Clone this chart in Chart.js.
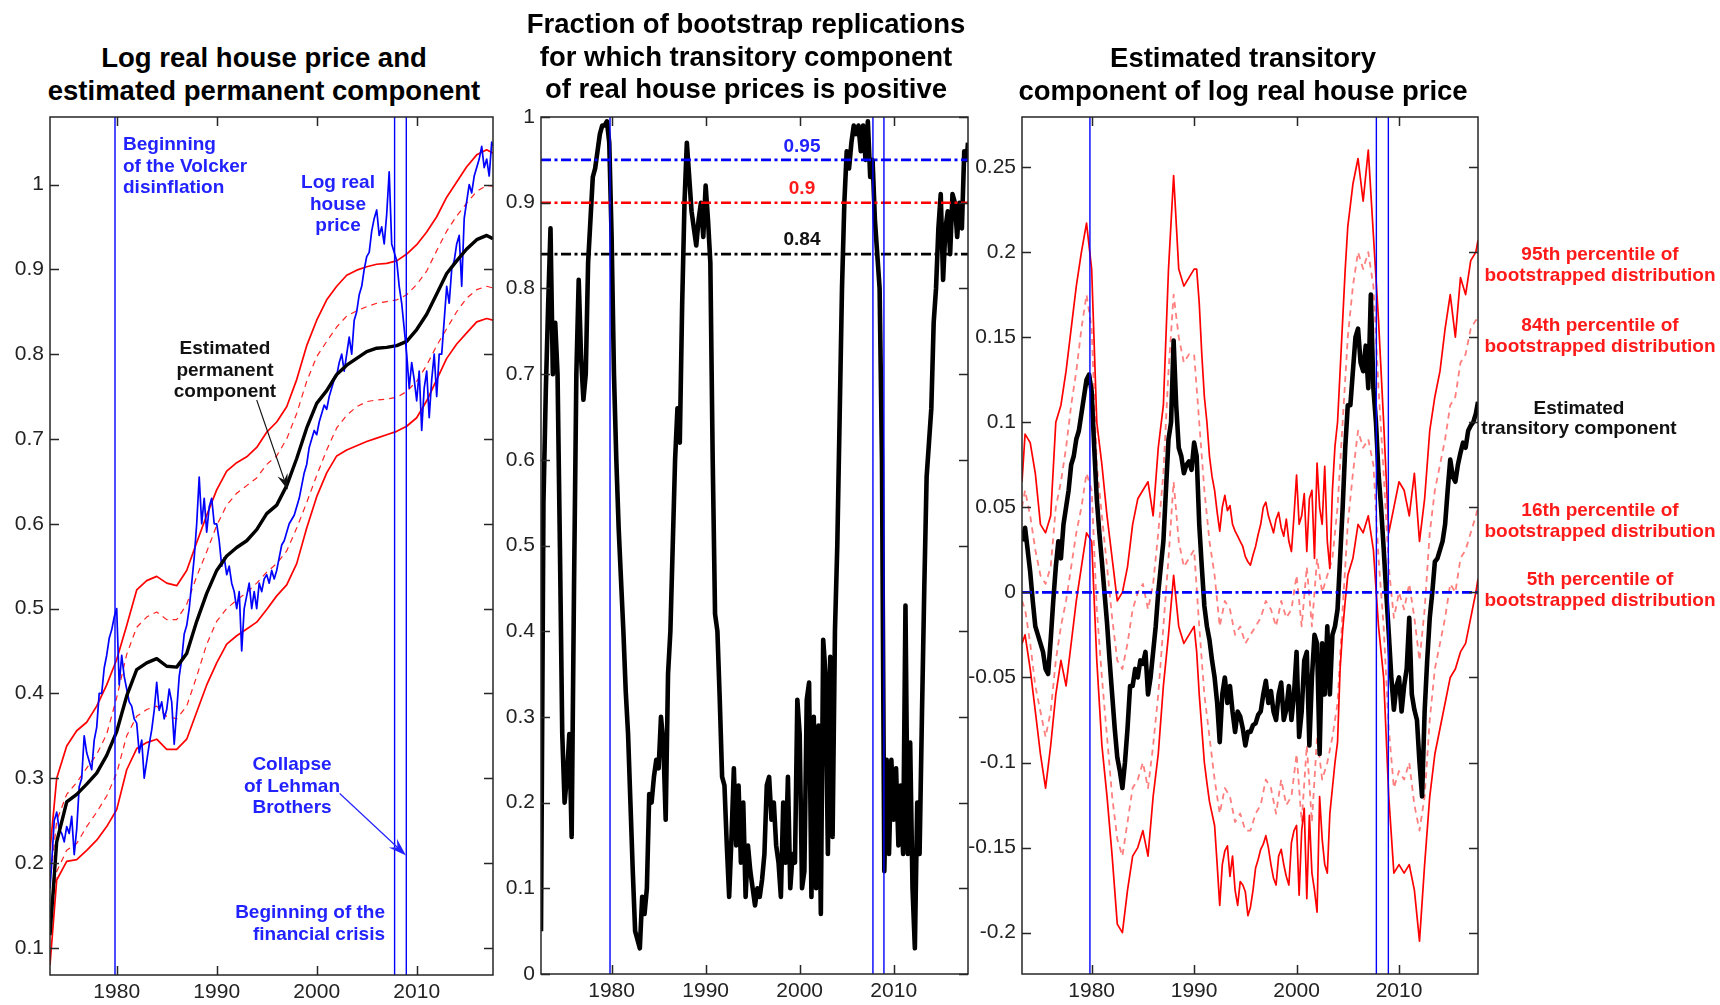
<!DOCTYPE html>
<html><head><meta charset="utf-8">
<script src="https://cdn.jsdelivr.net/npm/chart.js@4.4.1/dist/chart.umd.min.js"></script>
<style>
html,body{margin:0;padding:0;background:#fff;width:1720px;height:1005px;overflow:hidden;position:relative;}
.pane{position:absolute;}
.t{position:absolute;font-family:'Liberation Sans',Arial,sans-serif;font-weight:bold;white-space:nowrap;z-index:5;}
.title{font-size:27.5px;line-height:32.5px;color:#000;text-align:center;transform:translateX(-50%);}
.ann{font-size:19px;line-height:21.5px;}
.c{text-align:center;transform:translateX(-50%);}
.blue{color:#2222ff;} .red{color:#ff1a1a;} .blk{color:#111;}
</style></head><body>

<div class="t title" style="left:264px;top:42px">Log real house price and<br>estimated permanent component</div>
<div class="t title" style="left:746px;top:8px">Fraction of bootstrap replications<br>for which transitory component<br>of real house prices is positive</div>
<div class="t title" style="left:1243px;top:42px">Estimated transitory<br>component of log real house price</div>

<div class="pane" style="left:0;top:107px;width:503px;height:908px"><canvas id="c1"></canvas></div>
<div class="pane" style="left:491px;top:107px;width:487px;height:907px"><canvas id="c2"></canvas></div>
<div class="pane" style="left:962px;top:107px;width:526px;height:907px"><canvas id="c3"></canvas></div>

<div class="t ann blue" style="left:123px;top:133px">Beginning<br>of the Volcker<br>disinflation</div>
<div class="t ann blue c" style="left:338px;top:171px">Log real<br>house<br>price</div>
<div class="t ann blk c" style="left:225px;top:337px">Estimated<br>permanent<br>component</div>
<div class="t ann blue c" style="left:292px;top:753px">Collapse<br>of Lehman<br>Brothers</div>
<div class="t ann blue" style="right:1335px;top:901px;text-align:right">Beginning of the<br>financial crisis</div>

<div class="t ann blue c" style="left:802px;top:135px">0.95</div>
<div class="t ann red c" style="left:802px;top:177px">0.9</div>
<div class="t ann blk c" style="left:802px;top:228px">0.84</div>

<div class="t ann red c" style="left:1600px;top:243px;line-height:21px">95th percentile of<br>bootstrapped distribution</div>
<div class="t ann red c" style="left:1600px;top:314px;line-height:21px">84th percentile of<br>bootstrapped distribution</div>
<div class="t ann blk c" style="left:1579px;top:398px;line-height:20px">Estimated<br>transitory component</div>
<div class="t ann red c" style="left:1600px;top:499px;line-height:21px">16th percentile of<br>bootstrapped distribution</div>
<div class="t ann red c" style="left:1600px;top:568px;line-height:21px">5th percentile of<br>bootstrapped distribution</div>

<script>
// ---------------- DATA ----------------
const xTickYears = [1980, 1990, 2000, 2010];
const eventYears = [1979.83, 2007.79, 2008.96];
const p1YTicks = [0.1, 0.2, 0.3, 0.4, 0.5, 0.6, 0.7, 0.8, 0.9, 1];
const p2YTicks = [0, 0.1, 0.2, 0.3, 0.4, 0.5, 0.6, 0.7, 0.8, 0.9, 1];
const p3YTicks = [-0.2, -0.15, -0.1, -0.05, 0, 0.05, 0.1, 0.15, 0.2, 0.25];
const thresholds = [0.95, 0.9, 0.84];

const wholeYears = [1974,1975,1976,1977,1978, 1979,1980,1981,1982,1983, 1984,1985,1986,1987,1988,
  1989,1990,1991,1992,1993, 1994,1995,1996,1997,1998, 1999,2000,2001,2002,2003,
  2004,2005,2006,2007,2008, 2009,2010,2011,2012,2013, 2014,2015,2016,2017];
const halfYears = [1974,1974.5,1975,1975.5,1976,1976.5,1977,1977.5,1978,1978.5,
  1979,1979.5,1980,1980.5,1981,1981.5,1982,1982.5,1983,1983.5,
  1984,1984.5,1985,1985.5,1986,1986.5,1987,1987.5,1988,1988.5,
  1989,1989.5,1990,1990.5,1991,1991.5,1992,1992.5,1993,1993.5,
  1994,1994.5,1995,1995.5,1996,1996.5,1997,1997.5,1998,1998.5,
  1999,1999.5,2000,2000.5,2001,2001.5,2002,2002.5,2003,2003.5,
  2004,2004.5,2005,2005.5,2006,2006.5,2007,2007.5,2008,2008.5,
  2009,2009.5,2010,2010.5,2011,2011.5,2012,2012.5,2013,2013.5,
  2014,2014.5,2015,2015.5,2016,2016.5,2017,2017.5];
const quarterYears = [
  1974,1974.25,1974.5,1974.75, 1975,1975.25,1975.5,1975.75, 1976,1976.25,1976.5,1976.75, 1977,1977.25,1977.5,1977.75, 1978,1978.25,1978.5,1978.75,
  1979,1979.25,1979.5,1979.75, 1980,1980.25,1980.5,1980.75, 1981,1981.25,1981.5,1981.75, 1982,1982.25,1982.5,1982.75, 1983,1983.25,1983.5,1983.75,
  1984,1984.25,1984.5,1984.75, 1985,1985.25,1985.5,1985.75, 1986,1986.25,1986.5,1986.75, 1987,1987.25,1987.5,1987.75, 1988,1988.25,1988.5,1988.75,
  1989,1989.25,1989.5,1989.75, 1990,1990.25,1990.5,1990.75, 1991,1991.25,1991.5,1991.75, 1992,1992.25,1992.5,1992.75, 1993,1993.25,1993.5,1993.75,
  1994,1994.25,1994.5,1994.75, 1995,1995.25,1995.5,1995.75, 1996,1996.25,1996.5,1996.75, 1997,1997.25,1997.5,1997.75, 1998,1998.25,1998.5,1998.75,
  1999,1999.25,1999.5,1999.75, 2000,2000.25,2000.5,2000.75, 2001,2001.25,2001.5,2001.75, 2002,2002.25,2002.5,2002.75, 2003,2003.25,2003.5,2003.75,
  2004,2004.25,2004.5,2004.75, 2005,2005.25,2005.5,2005.75, 2006,2006.25,2006.5,2006.75, 2007,2007.25,2007.5,2007.75, 2008,2008.25,2008.5,2008.75,
  2009,2009.25,2009.5,2009.75, 2010,2010.25,2010.5,2010.75, 2011,2011.25,2011.5,2011.75, 2012,2012.25,2012.5,2012.75, 2013,2013.25,2013.5,2013.75,
  2014,2014.25,2014.5,2014.75, 2015,2015.25,2015.5,2015.75, 2016,2016.25,2016.5,2016.75, 2017,2017.25,2017.5];

// Panel 1: log real house price and permanent component (with bands)
const p1SmoothYears = [1973.33, ...wholeYears, 2017.63];
const p1PriceYears = [1973.33, 1973.5, 1973.75, ...quarterYears, 2017.63];
const logPrice = [0.17, 0.2, 0.25,
  0.26,0.24,0.235,0.225, 0.243,0.235,0.255,0.21, 0.24,0.29,0.3,0.35, 0.33,0.32,0.31,0.345, 0.36,0.4,0.4,0.43,
  0.445,0.465,0.475,0.49, 0.5,0.41,0.445,0.42, 0.405,0.39,0.385,0.37, 0.365,0.33,0.345,0.3, 0.32,0.34,0.357,0.38,
  0.413,0.38,0.39,0.37, 0.381,0.405,0.39,0.34, 0.38,0.42,0.44,0.47, 0.48,0.5,0.53,0.56, 0.6,0.655,0.6,0.63,
  0.59,0.62,0.63,0.6, 0.6,0.58,0.55,0.56, 0.54,0.55,0.53,0.52, 0.5,0.52,0.45,0.5, 0.515,0.53,0.5,0.52,
  0.5,0.53,0.52,0.535, 0.54,0.53,0.545,0.535, 0.545,0.56,0.575,0.58, 0.59,0.6,0.605,0.61, 0.62,0.63,0.645,0.66,
  0.67,0.69,0.7,0.71, 0.705,0.72,0.73,0.74, 0.735,0.75,0.76,0.77, 0.775,0.79,0.8,0.78, 0.8,0.82,0.8,0.84,
  0.85,0.87,0.88,0.9, 0.915,0.92,0.945,0.96, 0.97,0.94,0.95,0.93, 0.965,1.015,0.93,0.92, 0.91,0.88,0.86,0.83,
  0.8,0.76,0.79,0.77, 0.745,0.78,0.71,0.76, 0.78,0.725,0.77,0.8, 0.75,0.8,0.8,0.84, 0.88,0.86,0.9,0.91,
  0.93,0.94,0.88,0.96, 0.98,1.0,0.99,1.01, 1.02,1.03,1.045,1.02, 1.03,1.01,1.05,
  1.045];
const permanent = [0.115,
  0.225,0.272,0.281,0.293,0.306, 0.327,0.355,0.397,0.428,0.436, 0.441,0.432,0.431,0.447,0.485,
  0.518,0.545,0.562,0.572,0.58, 0.593,0.612,0.622,0.645,0.677, 0.713,0.742,0.757,0.776,0.787,
  0.795,0.803,0.807,0.808,0.81, 0.815,0.829,0.847,0.871,0.895, 0.91,0.924,0.935,0.94,
  0.936];
const perm95 = [0.215,
  0.3,0.338,0.356,0.366,0.385, 0.41,0.44,0.48,0.522,0.533, 0.538,0.53,0.527,0.545,0.578,
  0.61,0.64,0.662,0.672,0.679, 0.69,0.708,0.72,0.738,0.77, 0.81,0.84,0.864,0.88,0.893,
  0.899,0.903,0.906,0.907,0.91, 0.918,0.929,0.944,0.962,0.985, 1.003,1.021,1.035,1.041,
  1.037];
const perm84 = [0.176,
  0.25,0.281,0.295,0.312,0.328, 0.352,0.395,0.446,0.478,0.49, 0.496,0.487,0.487,0.505,0.538,
  0.567,0.598,0.622,0.636,0.645, 0.654,0.67,0.68,0.7,0.73, 0.768,0.797,0.815,0.832,0.845,
  0.851,0.856,0.86,0.862,0.864, 0.87,0.882,0.898,0.922,0.945, 0.963,0.978,0.992,0.999,
  0.998];
const perm16 = [0.125,
  0.19,0.215,0.223,0.243,0.26, 0.279,0.306,0.35,0.373,0.381, 0.385,0.373,0.37,0.385,0.42,
  0.458,0.485,0.5,0.51,0.519, 0.53,0.543,0.553,0.568,0.595, 0.625,0.657,0.687,0.713,0.728,
  0.738,0.744,0.746,0.747,0.749, 0.756,0.768,0.787,0.81,0.83, 0.85,0.866,0.876,0.88,
  0.878];
const perm05 = [0.08,
  0.18,0.202,0.204,0.215,0.227, 0.243,0.263,0.31,0.335,0.342, 0.346,0.334,0.334,0.346,0.378,
  0.41,0.436,0.458,0.468,0.476, 0.484,0.499,0.515,0.528,0.553, 0.595,0.632,0.66,0.68,0.687,
  0.692,0.697,0.701,0.705,0.709, 0.715,0.725,0.745,0.77,0.795, 0.812,0.825,0.838,0.842,
  0.84];

// Panel 2: fraction of bootstrap replications with positive transitory component
const p2Years = [1972.49, 1972.75, 1973, 1973.25, 1973.5, 1973.75, ...quarterYears, 2017.75, 2017.9];
const fracPositive = [0.05, 0.55, 0.68, 0.78, 0.87, 0.7,
  0.76,0.7,0.5,0.28, 0.2,0.23,0.28,0.16, 0.45,0.7,0.81,0.72, 0.67,0.7,0.83,0.88, 0.93,0.94,0.96,0.98,
  0.99,0.99,0.995,0.97, 0.86,0.7,0.6,0.52, 0.46,0.4,0.33,0.28, 0.2,0.12,0.05,0.04, 0.03,0.09,0.07,0.1,
  0.21,0.2,0.23,0.25, 0.24,0.3,0.27,0.18, 0.35,0.4,0.5,0.6, 0.66,0.62,0.78,0.9, 0.97,0.93,0.89,0.87,
  0.85,0.88,0.9,0.86, 0.92,0.88,0.83,0.6, 0.42,0.4,0.32,0.23, 0.22,0.15,0.09,0.16, 0.24,0.15,0.22,0.13,
  0.2,0.09,0.15,0.12, 0.1,0.08,0.1,0.09, 0.11,0.14,0.22,0.23, 0.18,0.2,0.15,0.13, 0.09,0.2,0.13,0.23,
  0.1,0.14,0.13,0.32, 0.28,0.1,0.12,0.32, 0.34,0.09,0.3,0.1, 0.29,0.07,0.39,0.35, 0.14,0.37,0.16,0.4,
  0.5,0.65,0.8,0.9, 0.96,0.94,0.97,0.99, 0.98,0.99,0.96,0.99, 0.95,0.995,0.93,0.95, 0.88,0.84,0.8,0.6,
  0.12,0.25,0.14,0.25, 0.18,0.24,0.15,0.22, 0.14,0.43,0.14,0.27, 0.1,0.03,0.2,0.14, 0.3,0.45,0.58,0.62,
  0.66,0.76,0.8,0.87, 0.91,0.81,0.87,0.89, 0.84,0.91,0.9,0.86, 0.9,0.87,0.96,
  0.95, 0.97];

// Panel 3: transitory component with bootstrap percentiles
const p3Years = [1973.2, 1973.5, ...halfYears, 2017.71];
const p3QYears = [1973.2, 1973.5, 1973.75, ...quarterYears, 2017.71];
// half-yearly to 1989.5, quarterly 1990-2004.75, half-yearly from 2005
const p3MixYears = [1973.2, 1973.5, ...halfYears.slice(0, 32), ...quarterYears.slice(64, 124), ...halfYears.slice(62), 2017.71];
const transitory = [0.03, 0.038, 0.025,
  0.012,-0.005,-0.02,-0.025, -0.03,-0.035,-0.045,-0.048, -0.028,-0.005,0.015,0.03, 0.02,0.04,0.05,0.06, 0.075,0.08,0.09,0.095,
  0.105,0.115,0.125,0.128, 0.118,0.085,0.055,0.035, 0.018,0.0,-0.018,-0.04, -0.06,-0.08,-0.097,-0.105, -0.115,-0.1,-0.08,-0.055,
  -0.055,-0.045,-0.05,-0.04, -0.042,-0.035,-0.06,-0.05, -0.035,-0.02,0.0,0.015, 0.03,0.06,0.09,0.1, 0.148,0.11,0.085,0.08,
  0.07,0.075,0.077,0.072, 0.088,0.08,0.04,0.015, -0.008,-0.02,-0.028,-0.04, -0.05,-0.065,-0.088,-0.06, -0.05,-0.065,-0.055,-0.07,
  -0.082,-0.07,-0.073,-0.08, -0.09,-0.082,-0.082,-0.078, -0.077,-0.072,-0.07,-0.06, -0.052,-0.065,-0.058,-0.07, -0.075,-0.06,-0.053,-0.075,
  -0.069,-0.055,-0.075,-0.06, -0.035,-0.085,-0.07,-0.04, -0.035,-0.09,-0.05,-0.025, -0.03,-0.095,-0.03,-0.06, -0.02,-0.06,-0.025,-0.02,
  -0.01,0.02,0.05,0.085, 0.11,0.11,0.13,0.15, 0.155,0.135,0.13,0.145, 0.12,0.175,0.12,0.1, 0.07,0.05,0.026,0.0,
  -0.024,-0.05,-0.069,-0.055, -0.05,-0.07,-0.055,-0.045, -0.015,-0.06,-0.069,-0.075, -0.1,-0.12,-0.07,-0.04, -0.015,0.0,0.018,0.02,
  0.025,0.03,0.04,0.06, 0.078,0.068,0.065,0.075, 0.082,0.088,0.085,0.095, 0.098,0.1,0.105,
  0.112];
const trans95 = [0.065, 0.093,
  0.088,0.07,0.04,0.035,0.045,0.1,0.11,0.13,0.155,0.18,
  0.2,0.217,0.19,0.1,0.075,0.045,0.02,-0.005,0.0,0.015,
  0.04,0.055,0.06,0.065,0.045,0.085,0.11,0.19,0.245,0.19,0.18,0.185,
  0.19,0.19,0.17,0.14, 0.115,0.1,0.08,0.068, 0.06,0.047,0.036,0.05, 0.057,0.048,0.051,0.04,
  0.036,0.033,0.03,0.027, 0.021,0.018,0.016,0.022, 0.027,0.034,0.04,0.05, 0.053,0.045,0.04,0.035,
  0.043,0.047,0.038,0.033, 0.043,0.03,0.024,0.045, 0.069,0.04,0.045,0.058, 0.024,0.055,0.06,0.02,
  0.076,0.05,0.04,0.074, 0.03,0.014,0.06,0.086, 0.1,0.13,0.16,0.19,
  0.215,0.24,0.255,0.23,0.26,0.21,0.16,0.1,
  0.035,0.05,0.065,0.06,0.045,0.07,0.03,0.055,0.095,0.115,
  0.13,0.155,0.175,0.15,0.185,0.175,0.195,0.2,
  0.207];
const trans84 = [0.05, 0.06,
  0.045,0.025,0.01,0.005,0.015,0.05,0.065,0.085,0.11,0.13,
  0.155,0.175,0.155,0.075,0.045,0.015,-0.015,-0.04,-0.045,-0.03,
  -0.01,0.0,0.005,-0.01,0.005,0.035,0.07,0.13,0.175,0.15,
  0.135,0.14,0.14,0.1,0.06,0.03,0.01,-0.02,-0.005,-0.01,
  -0.025,-0.02,-0.03,-0.025,-0.02,-0.015,-0.005,-0.01,-0.02,-0.005,
  -0.015,-0.01,0.01,-0.02,0.015,-0.02,0.02,0.0,0.01,0.02,
  0.05,0.1,0.15,0.18,0.2,0.19,0.2,0.18,0.12,0.07,
  0.015,-0.015,0.0,-0.01,0.005,-0.015,-0.04,-0.01,0.035,0.06,
  0.075,0.09,0.11,0.115,0.135,0.14,0.155,0.16,
  0.16];
const trans16 = [-0.005, -0.01,
  -0.03,-0.055,-0.07,-0.085,-0.07,-0.04,-0.02,-0.005,0.015,0.035,
  0.05,0.07,0.06,-0.01,-0.05,-0.085,-0.12,-0.145,-0.155,-0.135,
  -0.115,-0.11,-0.1,-0.115,-0.09,-0.06,-0.02,0.02,0.065,0.03,
  0.015,0.02,0.025,-0.02,-0.06,-0.085,-0.11,-0.13,-0.115,-0.12,
  -0.135,-0.13,-0.14,-0.14,-0.13,-0.125,-0.11,-0.115,-0.13,-0.11,
  -0.125,-0.12,-0.095,-0.135,-0.09,-0.135,-0.085,-0.11,-0.1,-0.085,
  -0.065,-0.01,0.04,0.07,0.095,0.085,0.09,0.075,0.02,-0.02,
  -0.08,-0.115,-0.105,-0.11,-0.1,-0.125,-0.14,-0.12,-0.075,-0.045,
  -0.03,-0.015,0.005,0.0,0.02,0.025,0.035,0.045,
  0.05];
const trans05 = [-0.03, -0.025,
  -0.045,-0.07,-0.095,-0.115,-0.09,-0.06,-0.04,-0.055,-0.03,-0.005,
  0.015,0.035,0.03,-0.04,-0.09,-0.12,-0.155,-0.195,-0.2,-0.175,
  -0.155,-0.15,-0.14,-0.155,-0.12,-0.095,-0.055,-0.025,0.01,-0.02,-0.03,-0.025,
  -0.02,-0.035,-0.06,-0.08, -0.1,-0.112,-0.123,-0.13, -0.137,-0.16,-0.184,-0.16, -0.152,-0.149,-0.167,-0.155,
  -0.175,-0.184,-0.17,-0.172, -0.176,-0.19,-0.185,-0.175, -0.162,-0.157,-0.151,-0.148, -0.143,-0.15,-0.16,-0.168,
  -0.172,-0.155,-0.151,-0.16, -0.167,-0.172,-0.147,-0.14, -0.137,-0.178,-0.14,-0.127, -0.18,-0.131,-0.165,-0.175,
  -0.188,-0.12,-0.145,-0.16, -0.165,-0.13,-0.115,-0.1, -0.088,-0.045,-0.022,-0.005,
  0.01,0.02,0.04,0.035,0.045,0.025,-0.02,-0.05,
  -0.12,-0.165,-0.16,-0.165,-0.16,-0.175,-0.205,-0.16,-0.12,-0.095,
  -0.08,-0.065,-0.05,-0.045,-0.035,-0.03,-0.015,0.0,
  0.008];

// annotation arrows (data coordinates of panel 1)
const arrowsP1 = [
  {from: [1994.0, 0.746], to: [1997.1, 0.64], color: '#111', width: 1.1, head: 16},
  {from: [2002.3, 0.282], to: [2008.93, 0.209], color: '#2222ff', width: 1.2, head: 18}
];

// ---------------- RENDERING ----------------
Chart.defaults.font.family = "'Liberation Sans', Arial, sans-serif";
const zip = (xs, ys) => xs.map((x, i) => ({x: x, y: ys[i]}));
function series(xs, ys, color, width, extra) {
  return Object.assign({data: zip(xs, ys), borderColor: color, borderWidth: width,
    pointRadius: 0, fill: false, tension: 0, borderJoinStyle: 'round'}, extra || {});
}
const DASHDOT = [10, 3.5, 3, 3.5];

const boxTicks = {
  id: 'boxTicks',
  afterDatasetsDraw(chart) {
    const {ctx, chartArea: a, scales: {x, y}} = chart;
    ctx.save();
    ctx.strokeStyle = '#262626'; ctx.lineWidth = 1.5;
    ctx.strokeRect(a.left, a.top, a.right - a.left, a.bottom - a.top);
    const L = 9;
    ctx.beginPath();
    x.ticks.forEach(t => { const px = Math.round(x.getPixelForValue(t.value)) + 0.5;
      ctx.moveTo(px, a.bottom); ctx.lineTo(px, a.bottom - L);
      ctx.moveTo(px, a.top); ctx.lineTo(px, a.top + L); });
    y.ticks.forEach(t => { const py = Math.round(y.getPixelForValue(t.value)) + 0.5;
      ctx.moveTo(a.left, py); ctx.lineTo(a.left + L, py);
      ctx.moveTo(a.right, py); ctx.lineTo(a.right - L, py); });
    ctx.stroke();
    ctx.restore();
  }
};
const arrowPlugin = {
  id: 'arrows',
  afterDatasetsDraw(chart, args, opts) {
    const items = (opts && opts.items) || [];
    const {ctx, scales: {x, y}} = chart;
    items.forEach(it => {
      const x0 = x.getPixelForValue(it.from[0]), y0 = y.getPixelForValue(it.from[1]);
      const x1 = x.getPixelForValue(it.to[0]), y1 = y.getPixelForValue(it.to[1]);
      ctx.save();
      ctx.strokeStyle = it.color; ctx.fillStyle = it.color; ctx.lineWidth = it.width;
      const ang = Math.atan2(y1 - y0, x1 - x0), L = it.head, W = it.head * 0.33;
      const c = Math.cos(ang), s = Math.sin(ang);
      ctx.beginPath(); ctx.moveTo(x0, y0); ctx.lineTo(x1 - 0.6 * L * c, y1 - 0.6 * L * s); ctx.stroke();
      ctx.beginPath(); ctx.moveTo(x1, y1);
      ctx.lineTo(x1 - L * c + W * s, y1 - L * s - W * c);
      ctx.lineTo(x1 - 0.65 * L * c, y1 - 0.65 * L * s);
      ctx.lineTo(x1 - L * c - W * s, y1 - L * s + W * c);
      ctx.closePath(); ctx.fill();
      ctx.restore();
    });
  }
};

function makeChart(id, cfg) {
  return new Chart(document.getElementById(id), {
    type: 'line',
    data: {datasets: cfg.datasets},
    options: {
      responsive: true, maintainAspectRatio: false, animation: false, devicePixelRatio: 1,
      layout: {autoPadding: false, padding: {top: 10, right: 10, left: 0, bottom: 0}},
      plugins: {legend: {display: false}, tooltip: {enabled: false}, arrows: {items: cfg.arrows || []}},
      elements: {point: {radius: 0}, line: {tension: 0}},
      scales: {
        x: {type: 'linear', min: cfg.xMin, max: cfg.xMax,
          grid: {display: false, drawTicks: false}, border: {display: false},
          ticks: {autoSkip: false, maxRotation: 0, padding: 5, color: '#222', font: {size: 21},
            callback: v => String(v)},
          afterBuildTicks: s => { s.ticks = xTickYears.map(v => ({value: v})); },
          afterFit: s => { s.height = 40; s.paddingLeft = 0; s.paddingRight = 0; }},
        y: {type: 'linear', min: cfg.yMin, max: cfg.yMax,
          grid: {display: false, drawTicks: false}, border: {display: false},
          ticks: {autoSkip: false, padding: 6, color: '#222', font: {size: 21},
            callback: v => String(+Number(v).toFixed(2))},
          afterBuildTicks: s => { s.ticks = cfg.yTicks.map(v => ({value: v})); },
          afterFit: s => { s.width = cfg.yAxisW; s.paddingTop = 0; s.paddingBottom = 0; }}
      }
    },
    plugins: [boxTicks, arrowPlugin]
  });
}
function vlines(yMin, yMax) {
  return eventYears.map(v => series([v, v], [yMin, yMax], '#0000ff', 1.4, {order: 0}));
}

// Panel 1
const P1 = {xMin: 1973.33, xMax: 2017.63, yMin: 0.068, yMax: 1.0796};
makeChart('c1', Object.assign({}, P1, {yTicks: p1YTicks, yAxisW: 50, arrows: arrowsP1,
  datasets: [
    ...vlines(P1.yMin, P1.yMax),
    series(p1SmoothYears, permanent, '#000', 3.4, {order: 1}),
    series(p1PriceYears, logPrice, '#0000ff', 1.7, {order: 2}),
    series(p1SmoothYears, perm95, '#ff0000', 1.7, {order: 3}),
    series(p1SmoothYears, perm84, '#ff2020', 1.2, {order: 3, borderDash: [6, 5]}),
    series(p1SmoothYears, perm16, '#ff2020', 1.2, {order: 3, borderDash: [6, 5]}),
    series(p1SmoothYears, perm05, '#ff0000', 1.7, {order: 3})
  ]}));

// Panel 2
const P2 = {xMin: 1972.49, xMax: 2017.9, yMin: 0, yMax: 1};
const thrColors = ['#0000ff', '#ff0000', '#000000'];
makeChart('c2', Object.assign({}, P2, {yTicks: p2YTicks, yAxisW: 50,
  datasets: [
    ...vlines(P2.yMin, P2.yMax),
    ...thresholds.map((t, i) => series([P2.xMin, P2.xMax], [t, t], thrColors[i], 2.6, {order: 1, borderDash: DASHDOT})),
    series(p2Years, fracPositive, '#000', 4.6, {order: 2})
  ]}));

// Panel 3
const P3 = {xMin: 1973.2, xMax: 2017.71, yMin: -0.2243, yMax: 0.2794};
makeChart('c3', Object.assign({}, P3, {yTicks: p3YTicks, yAxisW: 60,
  datasets: [
    ...vlines(P3.yMin, P3.yMax),
    series([P3.xMin, P3.xMax], [0, 0], '#0000ff', 2.6, {order: 0, borderDash: DASHDOT}),
    series(p3QYears, transitory, '#000', 4.6, {order: 1}),
    series(p3MixYears, trans95, '#ff0000', 1.7, {order: 2}),
    series(p3MixYears, trans05, '#ff0000', 1.7, {order: 2}),
    series(p3Years, trans84, 'rgba(255,40,40,0.6)', 1.8, {order: 3, borderDash: [6, 5]}),
    series(p3Years, trans16, 'rgba(255,40,40,0.6)', 1.8, {order: 3, borderDash: [6, 5]})
  ]}));
</script>
</body></html>
